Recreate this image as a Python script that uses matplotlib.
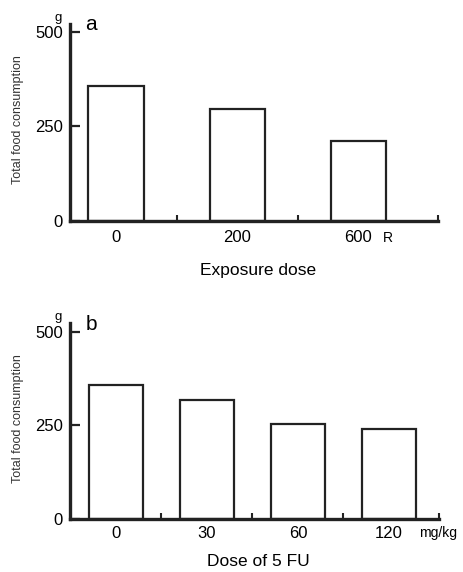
import matplotlib
matplotlib.use("Agg")
import matplotlib.pyplot as plt
from matplotlib.ticker import FixedLocator

plt.rcParams['font.family'] = ['Liberation Sans', 'DejaVu Sans']

# panel a: radiation exposure
dose_a = ['0', '200', '600']
food_a = [357, 296, 212]

# panel b: 5 FU
dose_b = ['0', '30', '60', '120']
food_b = [358, 318, 254, 241]

yticks = [0, 250, 500]

W, H = 464, 572
fig = plt.figure(figsize=(W / 100, H / 100), dpi=100)


def px(x, y):
    # pixel position (from top-left) -> figure fraction
    return x / W, 1 - y / H


def panel(rect, labels, values, width, xlim, ytop, top_px, letter, unit, xlabel, xlab_y, tpad):
    ax = fig.add_axes(rect)
    x = list(range(len(labels)))
    ax.bar(x, values, width=width, color='white', edgecolor='#222222', linewidth=1.6)
    ax.set_xlim(*xlim)
    ax.set_ylim(0, ytop)
    for s in ('top', 'right'):
        ax.spines[s].set_visible(False)
    for s in ('left', 'bottom'):
        ax.spines[s].set_linewidth(2.4)
        ax.spines[s].set_color('#222222')
    ax.set_xticks(x)
    ax.set_xticklabels(labels, fontsize=12)
    ax.tick_params(axis='x', which='major', length=0, pad=tpad)
    ax.xaxis.set_minor_locator(FixedLocator([i + 0.5 for i in x[:-1]] + [xlim[1]]))
    ax.tick_params(axis='x', which='minor', direction='in', length=4, width=1.5, color='#222222')
    ax.set_yticks(yticks)
    ax.set_yticklabels([str(v) for v in yticks], fontsize=12)
    ax.tick_params(axis='y', direction='in', length=7, width=1.6, color='#222222', pad=5)

    mid = rect[1] + rect[3] / 2
    fig.text(18 / W, mid + 0.005, 'Total food consumption', rotation=90, fontsize=9,
             color='#333333', ha='center', va='center')
    fig.text(*px(258, xlab_y), xlabel, fontsize=12.5, ha='center', va='center')
    fig.text(*px(58, top_px - 6), 'g', fontsize=9.5, ha='center', va='center')
    fig.text(*px(91, top_px + 1), letter, fontsize=15, ha='center', va='center')
    ux, uy, ulabel = unit
    fig.text(*px(ux, uy), ulabel, fontsize=10, ha='center', va='center')
    return ax


panel([70 / W, 1 - 221 / H, 368 / W, 197 / H], dose_a, food_a, 0.455,
      (-0.38, 2.66), 521, 24, 'a', (388, 238, 'R'), 'Exposure dose', 270, 6.5)
panel([70 / W, 1 - 519 / H, 369 / W, 196 / H], dose_b, food_b, 0.6,
      (-0.505, 3.55), 524, 323, 'b', (438, 533, 'mg/kg'), 'Dose of 5 FU', 562, 5)

fig.savefig('out.png', dpi=100)
